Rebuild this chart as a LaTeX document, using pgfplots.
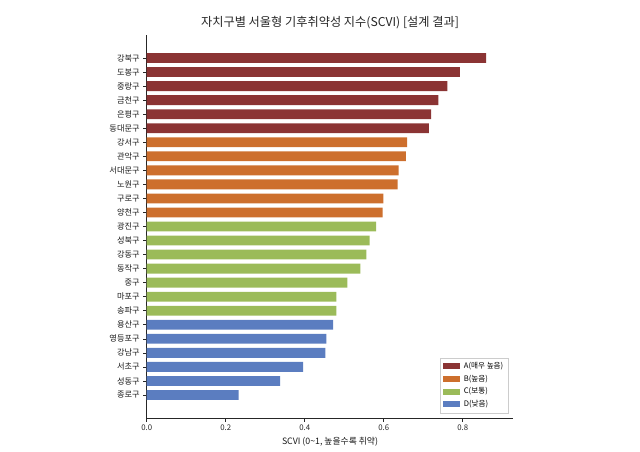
\documentclass[border=0pt]{standalone}
\usepackage{fontspec}
\setmainfont{Noto Sans CJK KR}
\usepackage{pgfplots}
\pgfplotsset{compat=1.18}

\definecolor{gradeA}{HTML}{8B3434}
\definecolor{gradeB}{HTML}{CD6F2D}
\definecolor{gradeC}{HTML}{9BBB59}
\definecolor{gradeD}{HTML}{5B7DC0}

\begin{document}
\begin{tikzpicture}
% page = 640 x 451 px of the reference, 1px = 1pt, origin at the axis' lower left corner
\useasboundingbox (-146.7pt,-33pt) rectangle (493.3pt,418pt);
\begin{axis}[
    scale only axis,
    width=366.6pt,
    height=383pt,
    clip=false,
    xbar,
    bar shift=0pt,
    bar width=0.7,
    xmin=0, xmax=0.928,
    ymin=-1.64, ymax=25.64,
    axis lines*=left,
    axis line style={black!85, line width=0.6pt},
    tick align=outside,
    major tick length=3.5pt,
    tick style={black!85, line width=0.6pt},
    xtick={0,0.2,0.4,0.6,0.8},
    xticklabel style={/pgf/number format/fixed, /pgf/number format/fixed zerofill,
        /pgf/number format/precision=1, font=\fontsize{7.8}{9}\selectfont, text=black!85},
    /pgf/number format/assume math mode=true,
    ytick={0,...,24},
    yticklabels={종로구,성동구,서초구,강남구,영등포구,용산구,송파구,마포구,중구,동작구,
        강동구,성북구,광진구,양천구,구로구,노원구,서대문구,관악구,강서구,동대문구,
        은평구,금천구,중랑구,도봉구,강북구},
    yticklabel style={font=\fontsize{8.2}{9}\selectfont, text=black!90},
    xlabel={SCVI (0\textasciitilde1, 높을수록 취약)},
    xlabel style={font=\fontsize{8.8}{10}\selectfont, text=black!90},
    legend cell align=left,
    legend style={at={(1,0)}, anchor=south east, xshift=-5pt, yshift=5pt,
        font=\fontsize{7.6}{9}\selectfont, draw=black!20,
        row sep=0.8pt, inner sep=2.8pt,
        /tikz/every odd column/.append style={column sep=2pt}},
    legend image code/.code={\fill[#1, sharp corners] (0pt,-3pt) rectangle (16.5pt,3pt);},
]
\addplot[fill=gradeA, draw=none] coordinates {
    (0.859,24) (0.793,23) (0.761,22) (0.738,21) (0.720,20) (0.714,19)};
\addplot[fill=gradeB, draw=none] coordinates {
    (0.659,18) (0.656,17) (0.638,16) (0.635,15) (0.599,14) (0.597,13)};
\addplot[fill=gradeC, draw=none] coordinates {
    (0.581,12) (0.564,11) (0.556,10) (0.541,9) (0.508,8) (0.480,7) (0.480,6)};
\addplot[fill=gradeD, draw=none] coordinates {
    (0.472,5) (0.455,4) (0.452,3) (0.396,2) (0.338,1) (0.233,0)};
\legend{A(매우 높음), B(높음), C(보통), D(낮음)}
\node[anchor=base, font=\fontsize{12.2}{14}\selectfont, text=black!85]
    at (rel axis cs:0.5,1) [yshift=8pt] {자치구별 서울형 기후취약성 지수(SCVI) [설계 결과]};
\end{axis}
\end{tikzpicture}
\end{document}
